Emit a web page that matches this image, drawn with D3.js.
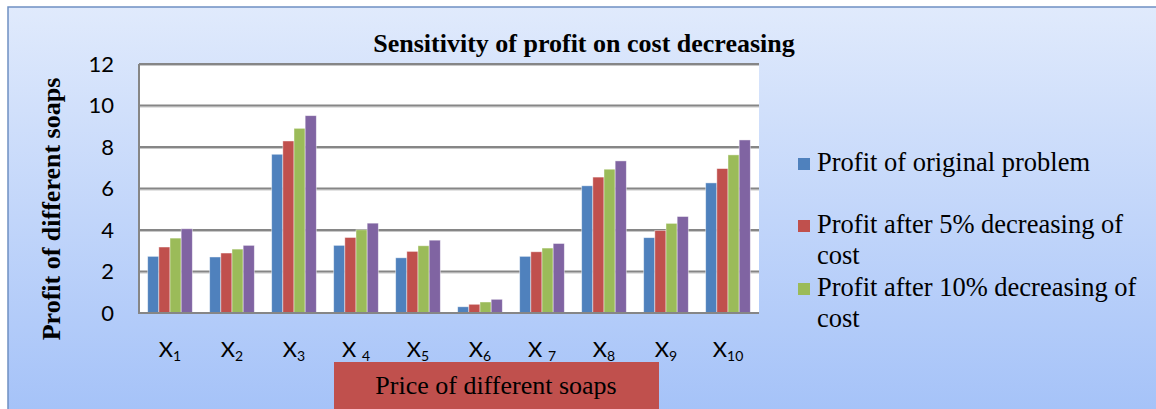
<!DOCTYPE html>
<html>
<head>
<meta charset="utf-8">
<script src="https://cdn.jsdelivr.net/npm/d3@7"></script>
<style>
  body { margin: 0; background: #fff; }
  svg { display: block; }
</style>
</head>
<body>
<div id="chart"></div>
<script>
// data
var categories = ["X1", "X2", "X3", "X4", "X5", "X6", "X7", "X8", "X9", "X10"];
var catMain = ["X", "X", "X", "X ", "X", "X", "X ", "X", "X", "X"];
var catSub = ["1", "2", "3", "4", "5", "6", "7", "8", "9", "10"];
var original = [2.73, 2.70, 7.65, 3.26, 2.66, 0.30, 2.73, 6.13, 3.63, 6.27];
var after5 = [3.18, 2.89, 8.29, 3.64, 2.97, 0.42, 2.95, 6.55, 3.98, 6.96];
var after10 = [3.61, 3.08, 8.90, 4.01, 3.24, 0.53, 3.13, 6.93, 4.32, 7.62];
var after15 = [4.06, 3.26, 9.51, 4.33, 3.51, 0.66, 3.35, 7.33, 4.65, 8.34];
var yTicks = [0, 2, 4, 6, 8, 10, 12];
// legend only shows the first three series (as in the original)
var legendLines = [["Profit of original problem"],
                   ["Profit after 5% decreasing of", "cost"],
                   ["Profit after 10% decreasing of", "cost"]];

var colors = ["#4f81bd", "#c0504d", "#9bbb59", "#8064a2"];
var allSeries = [original, after5, after10, after15];

var svgWidth = 1156, svgHeight = 409;
var plot = { left: 139, right: 759, top: 64, bottom: 313 };
var serif = "'Liberation Serif', 'Times New Roman', serif";
var sans = "Lato, 'Open Sans', sans-serif";

var svg = d3.select("#chart").append("svg")
  .attr("width", svgWidth)
  .attr("height", svgHeight);

var grad = svg.append("defs").append("linearGradient")
  .attr("id", "bg").attr("x1", 0).attr("y1", 0).attr("x2", 0).attr("y2", 1);
grad.append("stop").attr("offset", "0%").attr("stop-color", "#e0eafc");
grad.append("stop").attr("offset", "100%").attr("stop-color", "#a3c1f8");

// chart background
svg.append("rect")
  .attr("x", 8).attr("y", 7)
  .attr("width", 1160).attr("height", 420)
  .attr("fill", "url(#bg)")
  .attr("stroke", "#6f90c2")
  .attr("stroke-width", 1.5);

// plot area
svg.append("rect")
  .attr("x", plot.left).attr("y", plot.top)
  .attr("width", plot.right - plot.left).attr("height", plot.bottom - plot.top)
  .attr("fill", "#fff");

var x = d3.scaleBand()
  .domain(categories)
  .range([plot.left, plot.right])
  .paddingInner(0.28)
  .paddingOuter(0.14);

var x1 = d3.scaleBand()
  .domain(d3.range(allSeries.length))
  .range([0, x.bandwidth()]);

var y = d3.scaleLinear()
  .domain([0, 12])
  .range([plot.bottom, plot.top]);

// gridlines
var grid = svg.append("g");
grid.selectAll("line.shade")
  .data(yTicks.slice(1))
  .enter().append("line")
  .attr("x1", plot.left).attr("x2", plot.right)
  .attr("y1", d => y(d) + 1.5).attr("y2", d => y(d) + 1.5)
  .attr("stroke", "#c8c8c8").attr("stroke-width", 1);
grid.selectAll("line.main")
  .data(yTicks.slice(1))
  .enter().append("line")
  .attr("x1", plot.left).attr("x2", plot.right)
  .attr("y1", d => y(d)).attr("y2", d => y(d))
  .attr("stroke", "#868686").attr("stroke-width", 2);

// bars
var groups = svg.append("g").selectAll("g")
  .data(allSeries)
  .enter().append("g")
  .attr("fill", (d, i) => colors[i]);

groups.selectAll("rect")
  .data((d, si) => d.map((v, ci) => ({ v: v, si: si, c: categories[ci] })))
  .enter().append("rect")
  .attr("x", d => x(d.c) + x1(d.si))
  .attr("y", d => y(d.v))
  .attr("width", x1.bandwidth())
  .attr("height", d => y(0) - y(d.v))
  .attr("stroke", "#ffffff")
  .attr("stroke-opacity", 0.55)
  .attr("stroke-width", 0.8);

// axis lines
svg.append("line")
  .attr("x1", plot.left).attr("x2", plot.left)
  .attr("y1", plot.top).attr("y2", plot.bottom + 1)
  .attr("stroke", "#868686").attr("stroke-width", 2);
svg.append("line")
  .attr("x1", plot.left).attr("x2", plot.right)
  .attr("y1", plot.bottom).attr("y2", plot.bottom)
  .attr("stroke", "#868686").attr("stroke-width", 2);

// y tick labels
var yAxis = d3.axisLeft(y).tickValues(yTicks).tickSize(0).tickPadding(25);
var yg = svg.append("g")
  .attr("transform", `translate(${plot.left},0)`)
  .call(yAxis);
yg.select(".domain").remove();
yg.selectAll("text")
  .style("font-family", sans)
  .style("font-size", "22px")
  .attr("fill", "#000");

// x labels with subscripts
var xl = svg.append("g").selectAll("text")
  .data(categories)
  .enter().append("text")
  .attr("x", d => x(d) + x.bandwidth() / 2)
  .attr("y", 357)
  .attr("text-anchor", "middle")
  .style("font-family", sans)
  .style("font-size", "22px");
xl.append("tspan").text((d, i) => catMain[i]);
xl.append("tspan").text((d, i) => catSub[i])
  .attr("dy", 4)
  .style("font-size", "14px");

// title
svg.append("text")
  .attr("x", 584).attr("y", 52)
  .attr("text-anchor", "middle")
  .style("font-family", serif)
  .style("font-weight", "bold")
  .style("font-size", "26px")
  .text("Sensitivity of profit on cost decreasing");

// y title
svg.append("text")
  .attr("transform", "translate(60,209) rotate(-90)")
  .attr("text-anchor", "middle")
  .style("font-family", serif)
  .style("font-weight", "bold")
  .style("font-size", "26px")
  .text("Profit of different soaps");

// x title box
svg.append("rect")
  .attr("x", 334).attr("y", 362)
  .attr("width", 325).attr("height", 60)
  .attr("fill", "#c0504d");
svg.append("text")
  .attr("x", 496).attr("y", 394)
  .attr("text-anchor", "middle")
  .style("font-family", serif)
  .style("font-size", "26px")
  .text("Price of different soaps");

// legend
var legendY = [171, 233, 296];
var lg = svg.append("g").selectAll("g")
  .data(legendLines)
  .enter().append("g")
  .attr("transform", (d, i) => `translate(798,${legendY[i]})`);
lg.append("rect")
  .attr("x", 0).attr("y", -13)
  .attr("width", 12).attr("height", 12)
  .attr("fill", (d, i) => colors[i]);
var lt = lg.append("text")
  .attr("x", 19).attr("y", 0)
  .style("font-family", serif)
  .style("font-size", "26.5px");
lt.selectAll("tspan")
  .data(d => d)
  .enter().append("tspan")
  .attr("x", 19)
  .attr("dy", (d, i) => i === 0 ? 0 : 31)
  .text(d => d);
</script>
</body>
</html>
